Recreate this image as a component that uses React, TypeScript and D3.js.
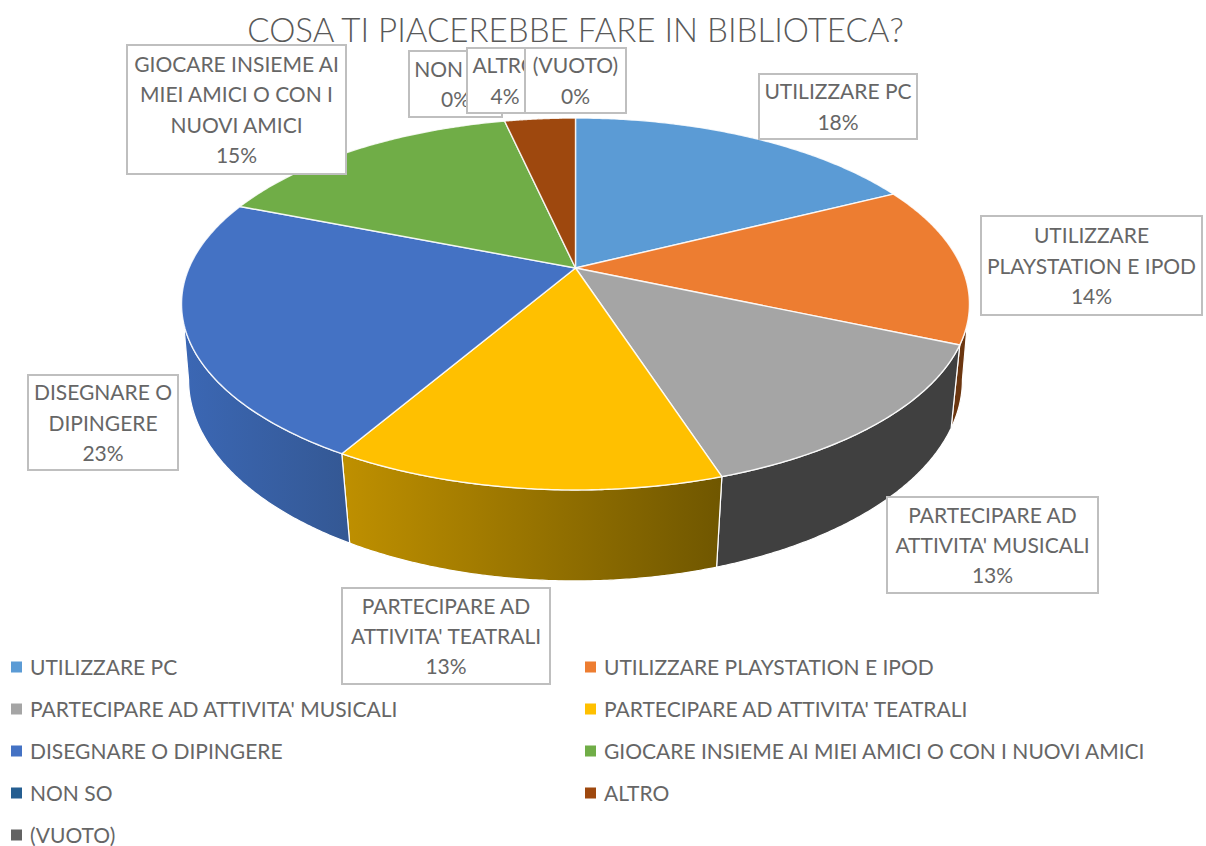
import React from "react";
import * as d3 from "d3";

const title = "COSA TI PIACEREBBE FARE IN BIBLIOTECA?";
const categories = [
  "UTILIZZARE PC",
  "UTILIZZARE PLAYSTATION E IPOD",
  "PARTECIPARE AD ATTIVITA' MUSICALI",
  "PARTECIPARE AD ATTIVITA' TEATRALI",
  "DISEGNARE O DIPINGERE",
  "GIOCARE INSIEME AI MIEI AMICI O CON I NUOVI AMICI",
  "NON SO",
  "ALTRO",
  "(VUOTO)",
];
const sliceValues = [17.6, 13.9, 13.5, 13.4, 22.6, 15.5, 0, 3.5, 0];
const percentLabels = ["18%", "14%", "13%", "13%", "23%", "15%", "0%", "4%", "0%"];
const labelLines = [
  ["UTILIZZARE PC"],
  ["UTILIZZARE", "PLAYSTATION E IPOD"],
  ["PARTECIPARE AD", "ATTIVITA' MUSICALI"],
  ["PARTECIPARE AD", "ATTIVITA' TEATRALI"],
  ["DISEGNARE O", "DIPINGERE"],
  ["GIOCARE INSIEME AI", "MIEI AMICI O CON I", "NUOVI AMICI"],
  ["NON SO"],
  ["ALTRO"],
  ["(VUOTO)"],
];
const topColors = ["#5B9BD5", "#ED7D31", "#A5A5A5", "#FFC000", "#4472C4", "#70AD47", "#255E91", "#9E480E", "#636363"];

// label box layout: x0, x1, y0, y1
const boxLayout = [
  [759, 917, 74, 139],
  [981, 1202, 216, 315],
  [887, 1098, 497, 593],
  [342, 550, 588, 684],
  [28, 178, 375, 470],
  [127, 346, 45, 174],
  [409, 502, 51, 117],
  [467, 543, 48, 113],
  [525, 626, 48, 113],
];

const FONT = "Lato, 'Open Sans', sans-serif";
const TEXT = "#666666";
const FS = 21;
const LINE_H = 30.4;
const cx = 575.5;
const cy = 268;
const A = 386.5;
const B = 179;
const K = 0.1935;
const A2 = 381;
const B2 = 194.9;
const K2 = 0.174;
const CY2 = 345;
const WALL_MIN = (100 * Math.PI) / 180;
const WALL_MAX = (260 * Math.PI) / 180;

const top = (ang: number): [number, number] => {
  const x = Math.sin(ang);
  const y = Math.cos(ang);
  const w = 1 + K * y;
  return [cx + (A * x) / w, cy - (B * y) / w];
};
const bottom = (ang: number): [number, number] => {
  const x = Math.sin(ang);
  const y = Math.cos(ang);
  const w = 1 + K2 * y;
  return [cx + (A2 * x) / w, CY2 - (B2 * y) / w];
};
const sampleAngles = (a0: number, a1: number) =>
  d3.range(0, 121).map((i) => d3.interpolateNumber(a0, a1)(i / 120));

const pieGen = d3.pie<number>().sort(null).value((d) => d).startAngle(0).endAngle(2 * Math.PI);
const arcs = pieGen(sliceValues);
const lineGen = d3.line();

const legendCol = d3.scaleOrdinal<number, number>().domain([0, 1]).range([11, 585]);
const legendRow = d3.scaleLinear().domain([0, 4]).range([667, 835]);

export default function App() {
  const wallFill = (i: number) => {
    if (i === 1) return "#6B3610";
    if (i === 2) return "#404040";
    if (i === 3) return "url(#wallYellow)";
    if (i === 4) return "url(#wallBlue)";
    return "#555555";
  };
  return (
    <svg width={1206} height={846} style={{ position: "absolute", left: 0, top: 0, background: "#fff" }} fontFamily={FONT}>
      <defs>
        <linearGradient id="wallYellow" gradientUnits="userSpaceOnUse" x1={341} x2={720} y1={0} y2={0}>
          <stop offset="0" stopColor="#BF9000" />
          <stop offset="1" stopColor="#705700" />
        </linearGradient>
        <linearGradient id="wallBlue" gradientUnits="userSpaceOnUse" x1={185} x2={347} y1={0} y2={0}>
          <stop offset="0" stopColor="#3B67B4" />
          <stop offset="1" stopColor="#345894" />
        </linearGradient>
      </defs>
      <text x={575.5} y={42} textAnchor="middle" fontSize={33.1} fill="#595959" fontWeight={300}>{title}</text>

      {arcs.map((a, i) => {
        const a0 = Math.max(a.startAngle, WALL_MIN);
        const a1 = Math.min(a.endAngle, WALL_MAX);
        if (a.value === 0 || a0 >= a1) return null;
        const angs = sampleAngles(a0, a1);
        const pts = [...angs.map(top), ...angs.slice().reverse().map(bottom)];
        return <path key={i} d={lineGen(pts) + "Z"} fill={wallFill(i)} stroke="#fff" strokeWidth={1.2} strokeLinejoin="round" />;
      })}
      {arcs.map((a, i) => {
        if (a.value === 0) return null;
        const angs = sampleAngles(a.startAngle, a.endAngle);
        const pts: [number, number][] = [[cx, cy], ...angs.map(top)];
        return <path key={i} d={lineGen(pts) + "Z"} fill={topColors[i]} stroke="#fff" strokeOpacity={0.85} strokeWidth={1.4} strokeLinejoin="round" />;
      })}

      {categories.map((_, i) => {
        const [x0, x1, y0, y1] = boxLayout[i];
        const lines = [...labelLines[i], percentLabels[i]];
        const mx = (x0 + x1) / 2;
        const my = (y0 + y1) / 2;
        const first = my - ((lines.length - 1) * LINE_H) / 2;
        return (
          <g key={i}>
            <rect x={x0} y={y0} width={x1 - x0} height={y1 - y0} fill="#fff" stroke="#BFBFBF" strokeWidth={2} />
            {lines.map((t, j) => (
              <text key={j} x={mx} y={first + j * LINE_H + 8} textAnchor="middle" fontSize={FS} fill={TEXT}>{t}</text>
            ))}
          </g>
        );
      })}

      {categories.map((c, i) => {
        const col = i === 8 ? 0 : i % 2;
        const row = Math.floor(i / 2);
        const x = legendCol(col);
        const y = legendRow(row);
        return (
          <g key={c}>
            <rect x={x} y={y - 5.5} width={11} height={11} fill={topColors[i]} />
            <text x={x + 19} y={y + 8} fontSize={FS} fill={TEXT}>{c}</text>
          </g>
        );
      })}
    </svg>
  );
}
